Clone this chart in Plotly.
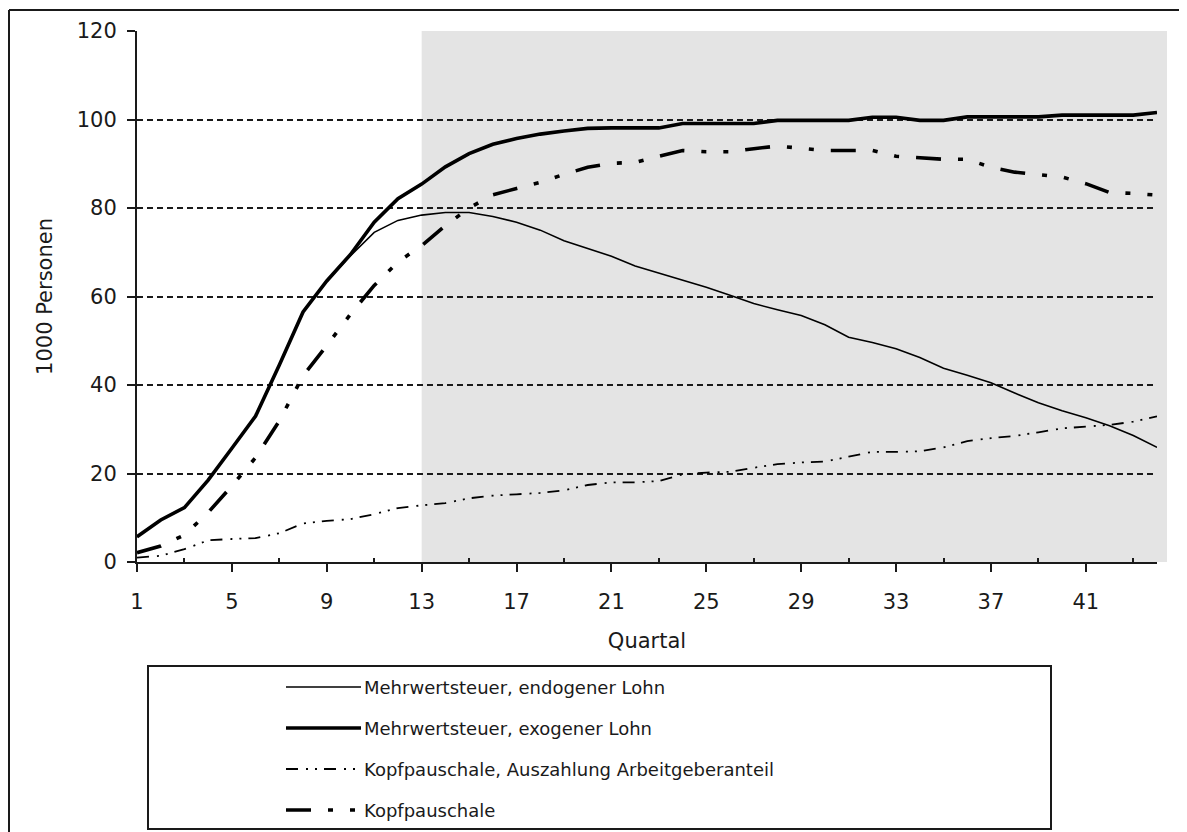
import plotly.graph_objects as go

# ---------------- data ----------------
quarters = list(range(1, 45))

series_names = [
    "Mehrwertsteuer, endogener Lohn",
    "Mehrwertsteuer, exogener Lohn",
    "Kopfpauschale, Auszahlung Arbeitgeberanteil",
    "Kopfpauschale",
]

mwst_endogen = [5.7, 9.5, 12.3, 18.5, 25.7, 33.0, 44.5, 56.5, 63.5, 69.2,
                74.5, 77.2, 78.4, 79.0, 79.0, 78.1, 76.8, 75.0, 72.6, 70.8,
                69.1, 66.9, 65.3, 63.6, 62.1, 60.3, 58.4, 57.0, 55.7, 53.6,
                50.8, 49.6, 48.2, 46.2, 43.8, 42.2, 40.5, 38.2, 36.0, 34.2,
                32.6, 30.8, 28.6, 25.9]

mwst_exogen = [5.7, 9.5, 12.3, 18.5, 25.7, 33.0, 44.5, 56.5, 63.5, 69.5,
               76.8, 82.1, 85.4, 89.3, 92.3, 94.4, 95.7, 96.7, 97.4, 98.0,
               98.1, 98.1, 98.1, 99.1, 99.1, 99.1, 99.1, 99.8, 99.8, 99.8,
               99.8, 100.5, 100.5, 99.8, 99.8, 100.6, 100.6, 100.6, 100.6, 101.0,
               101.0, 101.0, 101.0, 101.6]

kopf_auszahlung = [1.0, 1.4, 2.9, 4.9, 5.2, 5.4, 6.5, 8.7, 9.3, 9.7,
                   10.8, 12.2, 12.8, 13.3, 14.4, 15.0, 15.3, 15.6, 16.2, 17.4,
                   18.0, 18.0, 18.3, 19.8, 20.2, 20.4, 21.3, 22.1, 22.5, 22.7,
                   23.8, 24.9, 24.9, 25.0, 25.9, 27.3, 28.0, 28.5, 29.3, 30.2,
                   30.6, 31.0, 31.7, 32.9]

kopfpauschale = [2.1, 3.6, 6.1, 11.2, 17.2, 23.6, 31.9, 42.1, 48.9, 56.0,
                 62.5, 67.8, 71.5, 76.0, 80.0, 83.0, 84.4, 85.8, 87.6, 89.2,
                 90.1, 90.3, 91.7, 93.0, 92.7, 92.7, 93.4, 94.0, 93.5, 93.0,
                 93.0, 93.0, 91.7, 91.3, 91.0, 91.0, 89.2, 88.1, 87.5, 87.0,
                 85.5, 83.5, 83.3, 82.9]

x_ticks = [1, 5, 9, 13, 17, 21, 25, 29, 33, 37, 41]
x_minor_ticks = [3, 7, 11, 15, 19, 23, 27, 31, 35, 39, 43]
y_ticks = [0, 20, 40, 60, 80, 100, 120]
shade_start = 13

# ---------------- styles ----------------
FONT = "DejaVu Sans"
INK = "#1a1a1a"
styles = [
    dict(width=1.6, dash="solid"),
    dict(width=3.6, dash="solid"),
    dict(width=1.8, dash="12px,8px,2px,7px,2px,7px"),
    dict(width=3.6, dash="25px,17px,5px,17px,5px,17px"),
]

OFF = 8                      # default page margin of the html body
W, H = 1187 - OFF, 832 - OFF
L, R, T, B = 137 - OFF, 1157 - OFF, 31 - OFF, 562 - OFF   # plot area (px)


def px(x):   # reference pixel -> paper
    return (x - OFF - L) / (R - L)


def py(y):
    return (B - (y - OFF)) / (B - T)


fig = go.Figure()
for name, vals, st in zip(series_names,
                          [mwst_endogen, mwst_exogen, kopf_auszahlung, kopfpauschale],
                          styles):
    fig.add_trace(go.Scatter(
        x=quarters, y=vals, name=name, mode="lines",
        line=dict(color="black", width=st["width"], dash=st["dash"]),
        showlegend=False,
    ))

x_min, x_max = quarters[0], quarters[-1]
shapes = []
# shaded region from quarter 13 to slightly beyond the axis end
shapes.append(dict(type="rect", xref="paper", yref="paper",
                   x0=(shade_start - x_min) / (x_max - x_min), x1=px(1167),
                   y0=0, y1=1, fillcolor="#e4e4e4", line=dict(width=0),
                   layer="below"))
# outer frame: only top and left edges are inside the picture
shapes.append(dict(type="line", xref="paper", yref="paper",
                   x0=px(9), x1=px(1187), y0=py(10), y1=py(10),
                   line=dict(color=INK, width=2)))
shapes.append(dict(type="line", xref="paper", yref="paper",
                   x0=px(9), x1=px(9), y0=py(10), y1=py(832),
                   line=dict(color=INK, width=2)))
# legend frame
shapes.append(dict(type="rect", xref="paper", yref="paper",
                   x0=px(148), x1=px(1051), y0=py(666), y1=py(829),
                   line=dict(color=INK, width=2), fillcolor="white"))

annotations = []
row_y = [687, 728, 769, 810]
for name, st, ry in zip(series_names, styles, row_y):
    shapes.append(dict(type="line", xref="paper", yref="paper",
                       x0=px(286), x1=px(361), y0=py(ry), y1=py(ry),
                       line=dict(color="black", width=st["width"], dash=st["dash"])))
    annotations.append(dict(xref="paper", yref="paper", x=px(362), y=py(ry),
                            xanchor="left", yanchor="middle", text=name,
                            showarrow=False,
                            font=dict(family=FONT, size=18, color=INK)))

fig.update_layout(
    width=W, height=H,
    margin=dict(l=L, r=W - R, t=T, b=H - B, pad=0),
    paper_bgcolor="white", plot_bgcolor="white",
    font=dict(family=FONT, size=21, color=INK),
    shapes=shapes, annotations=annotations,
    showlegend=False,
    xaxis=dict(
        range=[x_min, x_max], tickmode="array", tickvals=x_ticks,
        showgrid=False, zeroline=False,
        showline=True, linecolor=INK, linewidth=2,
        ticks="outside", ticklen=8, tickwidth=2, tickcolor=INK,
        ticklabelstandoff=12,
        tickfont=dict(family=FONT, size=21, color=INK),
        minor=dict(ticks="inside", ticklen=4, tickwidth=2, tickcolor=INK,
                   tickmode="array", tickvals=x_minor_ticks, showgrid=False),
        title=dict(text="Quartal", standoff=20,
                   font=dict(family=FONT, size=21, color=INK)),
    ),
    yaxis=dict(
        range=[0, 120], tickmode="array", tickvals=y_ticks,
        showgrid=True, gridcolor=INK, gridwidth=2, griddash="6px,4px",
        zeroline=False,
        showline=True, linecolor=INK, linewidth=2,
        ticks="outside", ticklen=8, tickwidth=2, tickcolor=INK,
        ticklabelstandoff=6,
        tickfont=dict(family=FONT, size=21, color=INK),
        title=dict(text="1000 Personen", standoff=18,
                   font=dict(family=FONT, size=21, color=INK)),
    ),
)

fig.write_html("out.html")
